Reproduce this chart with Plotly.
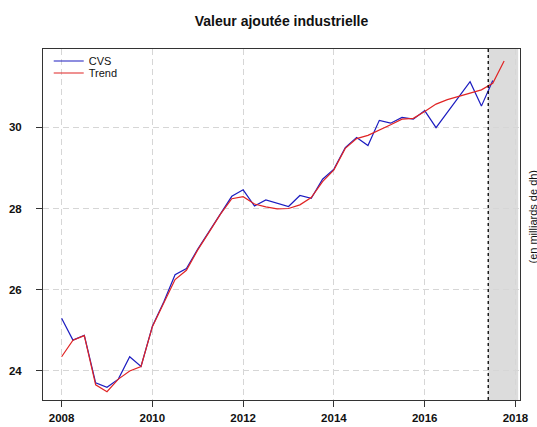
import plotly.graph_objects as go

# --- data (quarterly, starting 2008 Q1) ---
start_year = 2008
cvs = [25.30, 24.76, 24.88, 23.71, 23.60, 23.80, 24.35, 24.11, 25.10, 25.70,
       26.37, 26.52, 27.00, 27.43, 27.88, 28.30, 28.46, 28.06, 28.21, 28.13,
       28.05, 28.32, 28.25, 28.72, 28.97, 29.50, 29.75, 29.55, 30.17, 30.10,
       30.24, 30.20, 30.41, 29.99, 30.37, 30.74, 31.12, 30.52, 31.15]
trend = [24.35, 24.76, 24.87, 23.66, 23.49, 23.80, 24.00, 24.11, 25.09, 25.65,
         26.25, 26.48, 26.98, 27.42, 27.86, 28.24, 28.29, 28.11, 28.04, 27.99,
         28.00, 28.09, 28.27, 28.66, 28.95, 29.48, 29.72, 29.80, 29.92, 30.06,
         30.20, 30.22, 30.39, 30.57, 30.68, 30.76, 30.85, 30.92, 31.08, 31.63]
x_ticks = [2008, 2010, 2012, 2014, 2016, 2018]
y_ticks = [24, 26, 28, 30]
shade_start = 2017.4
shade_end = 2018.06
title = "Valeur ajoutée industrielle"
y_label = "(en milliards de dh)"

t_cvs = [start_year + i / 4 for i in range(len(cvs))]
t_trend = [start_year + i / 4 for i in range(len(trend))]

fig = go.Figure()
fig.add_trace(go.Scatter(x=t_cvs, y=cvs, mode="lines", name="CVS", legend="legend",
                         line=dict(color="#1c1cc0", width=1.2)))
fig.add_trace(go.Scatter(x=t_trend, y=trend, mode="lines", name="Trend", legend="legend2",
                         line=dict(color="#e02424", width=1.2)))

fig.add_shape(type="rect", xref="x", yref="paper", x0=shade_start, x1=shade_end,
              y0=0, y1=1, fillcolor="#dcdcdc", line=dict(width=0), layer="below")
fig.add_shape(type="line", xref="x", yref="paper", x0=shade_start, x1=shade_start,
              y0=0, y1=1, line=dict(color="black", width=1.3, dash="dot"))

font_family = "Liberation Sans, Arial, sans-serif"
grid_kw = dict(showgrid=True, gridcolor="#d6d6d6", griddash="6px,4px", gridwidth=1,
               showline=True, linecolor="#333333", linewidth=1, mirror=True,
               ticks="outside", ticklen=6, tickcolor="#333333", zeroline=False,
               automargin=False)

fig.update_xaxes(range=[2007.59, 2018.1], tickvals=x_ticks,
                 ticktext=[str(v) for v in x_ticks], ticklabelstandoff=1,
                 tickfont=dict(family=font_family, size=11.5, color="#111", weight="bold"),
                 **grid_kw)
fig.update_yaxes(range=[23.286, 31.926], tickvals=y_ticks,
                 ticktext=[str(v) for v in y_ticks], ticklabelstandoff=12,
                 tickfont=dict(family=font_family, size=11.5, color="#111", weight="bold"),
                 **grid_kw)

fig.add_annotation(text=y_label, xref="paper", yref="paper", x=1.0, y=0.5,
                   xshift=12, yshift=8, textangle=-90, showarrow=False,
                   xanchor="center", yanchor="middle",
                   font=dict(family=font_family, size=11, color="#111"))

legend_common = dict(x=0.012, xanchor="left", yanchor="middle",
                     bgcolor="rgba(0,0,0,0)", borderwidth=0,
                     font=dict(family=font_family, size=11, color="#111"))

fig.update_layout(
    width=537, height=427,
    margin=dict(l=43, r=17, t=49, b=27, autoexpand=False),
    paper_bgcolor="white", plot_bgcolor="white",
    title=dict(text=title, x=0.5, xref="paper", y=1 - 21 / 427, yref="container",
               xanchor="center", yanchor="middle",
               font=dict(family=font_family, size=14, color="#111", weight="bold")),
    legend=dict(y=(400 - 61) / 351, **legend_common),
    legend2=dict(y=(400 - 73) / 351, **legend_common),
    showlegend=True,
)

fig.write_html("out.html", config={"displayModeBar": False},
               post_script="document.body.style.margin='0';")
